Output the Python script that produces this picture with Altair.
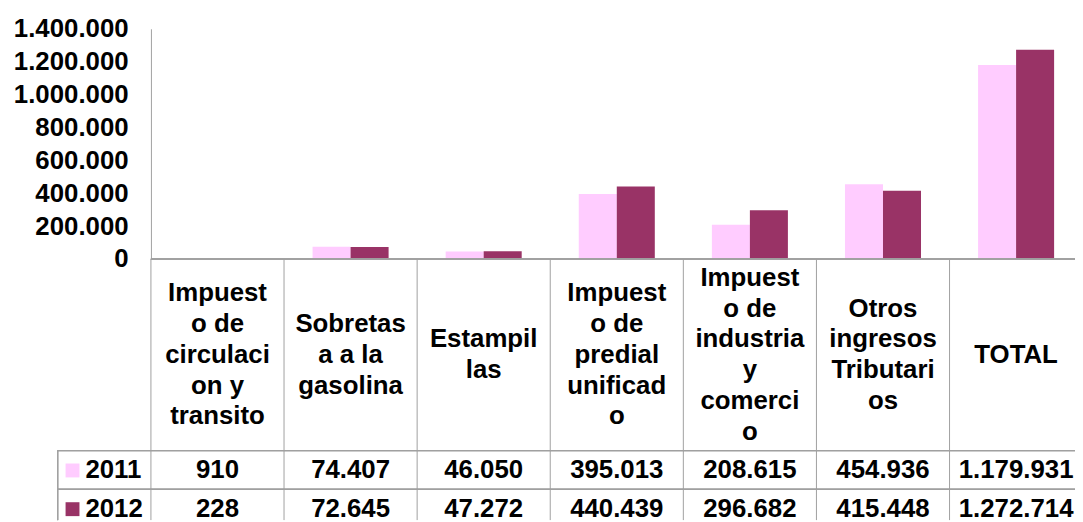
import altair as alt
import pandas as pd

categories = ["circulacion", "sobretasa", "estampillas", "predial", "industria", "otros", "total"]
labels = [
    "Impuest\no de\ncirculaci\non  y\ntransito",
    "Sobretas\na a  la\ngasolina",
    "Estampil\nlas",
    "Impuest\no de\npredial\nunificad\no",
    "Impuest\no de\nindustria\ny\ncomerci\no",
    "Otros\ningresos\nTributari\nos",
    "TOTAL",
]
years = ["2011", "2012"]
values_2011 = [910, 74407, 46050, 395013, 208615, 454936, 1179931]
values_2012 = [228, 72645, 47272, 440439, 296682, 415448, 1272714]
y_ticks = [0, 200000, 400000, 600000, 800000, 1000000, 1200000, 1400000]
colors = ["#FFCCFF", "#993366"]

FONT = "Liberation Sans"
FS = 26
GRID = "#a0a0a0"
PLOT_W = 931
PLOT_H = 495
Y_RANGE = 232
COL_W = 134.1
BAR_W = 38.3
LINE_H = 31
CAT_CENTER = 328.5
ROW_Y = {"2011": 445, "2012": 484}

# Columns are COL_W apart (the last one runs past the right edge, as in the source):
N = len(categories)
P_IN = round(N - PLOT_W / COL_W, 5)          # inner padding that makes the step COL_W
BANDW = COL_W * (1 - P_IN)                    # band width left for the marks
CENTER_POS = round((COL_W / 2) / BANDW, 5)    # band position of a column's centre
OFF_OUTER = round((BANDW / BAR_W - 2) / 2, 5)
OFF_ALIGN = round((COL_W / 2 - BAR_W) / (BANDW - 2 * BAR_W), 5)

def fmt(v):
    return f"{v:,}".replace(",", ".")

bars_df = pd.DataFrame(
    [{"cat": c, "year": "2011", "value": v} for c, v in zip(categories, values_2011)]
    + [{"cat": c, "year": "2012", "value": v} for c, v in zip(categories, values_2012)]
)
bars_df["label"] = bars_df["value"].map(fmt)
cats_df = pd.DataFrame({"cat": categories, "label": labels})

xscale = alt.Scale(domain=categories, paddingInner=P_IN, paddingOuter=0, align=0)
yscale = alt.Scale(domain=[0, 1400000], range=[Y_RANGE, 0], nice=False, zero=True)

bars = alt.Chart(bars_df).mark_bar().encode(
    x=alt.X("cat:N", scale=xscale, axis=None, sort=categories),
    xOffset=alt.XOffset("year:N", scale=alt.Scale(domain=years, paddingOuter=OFF_OUTER,
                                                 paddingInner=0, align=OFF_ALIGN)),
    y=alt.Y("value:Q", scale=yscale, title=None,
            axis=alt.Axis(values=y_ticks, ticks=False, grid=False, domainColor=GRID, domainWidth=1,
                          labelFont=FONT, labelFontSize=FS, labelFontWeight="bold", labelColor="black",
                          labelPadding=23,
                          labelExpr="replace(format(datum.value, ','), regexp(',', 'g'), '.')")),
    color=alt.Color("year:N", scale=alt.Scale(domain=years, range=colors), legend=None),
)

base_rule = alt.Chart(cats_df).mark_rule(color=GRID, strokeWidth=1)

zero_line = base_rule.encode(y=alt.datum(0), x=alt.value(0), x2=alt.value(PLOT_W))
col_lines = base_rule.encode(
    x=alt.X("cat:N", scale=xscale, axis=None, sort=categories, bandPosition=0),
    y=alt.value(Y_RANGE), y2=alt.value(PLOT_H),
)
legend_line = base_rule.encode(x=alt.value(-94), y=alt.value(425), y2=alt.value(PLOT_H))
row_line1 = base_rule.encode(x=alt.value(-94), x2=alt.value(PLOT_W), y=alt.value(425))
row_line2 = base_rule.encode(x=alt.value(-94), x2=alt.value(PLOT_W), y=alt.value(464))

layers = [bars, zero_line, col_lines, legend_line, row_line1, row_line2]

for cat, lab in zip(categories, labels):
    n = lab.count("\n") + 1
    layers.append(
        alt.Chart(cats_df).transform_filter(alt.datum.cat == cat).mark_text(
            font=FONT, fontSize=FS, fontWeight="bold", color="black", lineBreak="\n",
            lineHeight=LINE_H, align="center", baseline="middle",
        ).encode(
            x=alt.X("cat:N", scale=xscale, axis=None, sort=categories, bandPosition=CENTER_POS),
            y=alt.value(CAT_CENTER - (n - 1) * LINE_H / 2),
            text="label:N",
        )
    )

for yr, col in zip(years, colors):
    sub = bars_df[bars_df["year"] == yr]
    layers.append(
        alt.Chart(sub).mark_text(font=FONT, fontSize=FS, fontWeight="bold", color="black",
                                 align="center", baseline="middle").encode(
            x=alt.X("cat:N", scale=xscale, axis=None, sort=categories, bandPosition=CENTER_POS),
            y=alt.value(ROW_Y[yr]),
            text="label:N",
        )
    )
    leg_df = pd.DataFrame({"year": [yr]})
    layers.append(
        alt.Chart(leg_df).mark_square(size=196, color=col, opacity=1).encode(
            x=alt.value(-79), y=alt.value(ROW_Y[yr])
        )
    )
    layers.append(
        alt.Chart(leg_df).mark_text(font=FONT, fontSize=FS, fontWeight="bold", color="black",
                                    align="left", baseline="middle").encode(
            x=alt.value(-66), y=alt.value(ROW_Y[yr]), text="year:N"
        )
    )

chart = alt.layer(*layers).properties(
    width=PLOT_W, height=PLOT_H,
    autosize=alt.AutoSizeParams(type="none"),
    padding={"left": 144, "top": 19, "right": 0, "bottom": 0},
).configure_view(stroke=None)

chart.save("out.html", embed_options={"renderer": "svg", "actions": False})
